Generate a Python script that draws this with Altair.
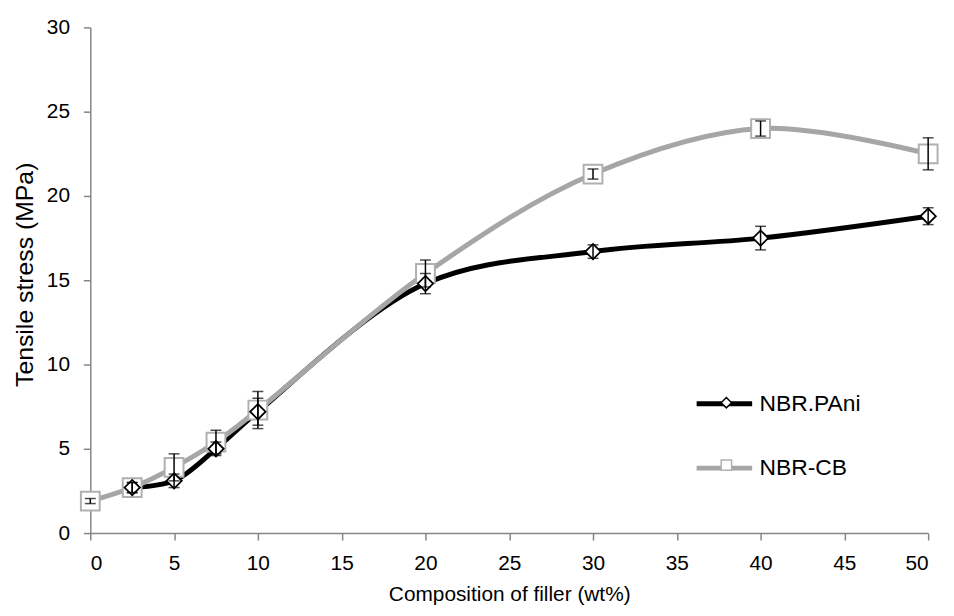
import altair as alt
import pandas as pd

# ---- data ----
series_names = ["NBR.PAni", "NBR-CB"]
marker_names = ["NBR.PAni ", "NBR-CB "]
x_pani = [2.5, 5, 7.5, 10, 20, 30, 40, 50]
y_pani = [2.7, 3.1, 5.0, 7.2, 14.8, 16.7, 17.5, 18.8]
e_pani = [0.3, 0.4, 0.4, 0.8, 0.6, 0.4, 0.7, 0.5]

x_cb = [0, 2.5, 5, 7.5, 10, 20, 30, 40, 50]
y_cb = [1.9, 2.7, 3.9, 5.4, 7.3, 15.4, 21.3, 24.0, 22.5]
e_cb = [0.15, 0.3, 0.8, 0.7, 1.1, 0.8, 0.3, 0.45, 0.95]

x_ticks = [0, 5, 10, 15, 20, 25, 30, 35, 40, 45, 50]
y_ticks = [0, 5, 10, 15, 20, 25, 30]

rows = []
for name, mk, xs, ys, es in [(series_names[0], marker_names[0], x_pani, y_pani, e_pani),
                             (series_names[1], marker_names[1], x_cb, y_cb, e_cb)]:
    for x, y, e in zip(xs, ys, es):
        rows.append({"series": name, "mk": mk, "x": x, "y": y,
                     "lo": y - e, "hi": y + e})
df = pd.DataFrame(rows)

FONT = "Liberation Sans"
colors = ["#000000", "#a6a6a6"]

xenc = alt.X("x:Q", scale=alt.Scale(domain=[0, 50], nice=False),
             axis=alt.Axis(values=x_ticks, title="Composition of filler (wt%)",
                           labelPadding=13, titlePadding=10))
yenc = alt.Y("y:Q", scale=alt.Scale(domain=[0, 30], nice=False),
             axis=alt.Axis(values=y_ticks, title="Tensile stress (MPa)",
                           labelPadding=14, titlePadding=9, titleFontSize=25,
                           titleY=249))

base = alt.Chart(df)

color_enc = alt.Color(
    "series:N", title=None,
    scale=alt.Scale(domain=series_names, range=colors),
    legend=alt.Legend(orient="none", legendX=609, legendY=349,
                      symbolType="stroke", symbolStrokeWidth=5, symbolSize=3136,
                      labelFontSize=23, labelFont=FONT, labelColor="black",
                      labelOffset=5, rowPadding=22, padding=0))

line_pani = base.transform_filter(alt.datum.series == series_names[0]).mark_line(
    strokeWidth=5, interpolate="catmull-rom").encode(x=xenc, y=yenc, color=color_enc)
line_cb = base.transform_filter(alt.datum.series == series_names[1]).mark_line(
    strokeWidth=5, interpolate="catmull-rom").encode(x=xenc, y=yenc, color=color_enc)

shape_enc = alt.Shape(
    "mk:N", title=None,
    scale=alt.Scale(domain=marker_names, range=["diamond", "square"]),
    legend=alt.Legend(orient="none", legendX=631, legendY=368,
                      symbolSize=110, symbolStrokeWidth=1.5, symbolFillColor="white",
                      labelFontSize=21, labelExpr="''", labelOffset=5,
                      rowPadding=41, padding=0))
stroke_enc = alt.Stroke("mk:N", title=None,
                        scale=alt.Scale(domain=marker_names, range=["#000000", "#b0b0b0"]))

pts_cb = base.transform_filter(alt.datum.series == series_names[1]).mark_point(
    size=360, fill="white", fillOpacity=1, strokeWidth=2, opacity=1
).encode(x="x:Q", y="y:Q", shape=shape_enc, stroke=stroke_enc)
pts_pani = base.transform_filter(alt.datum.series == series_names[0]).mark_point(
    size=240, fill="white", fillOpacity=1, strokeWidth=1.8, opacity=1
).encode(x="x:Q", y="y:Q", shape=shape_enc, stroke=stroke_enc)

err_rule = base.mark_rule(color="black", strokeWidth=1.5).encode(
    x="x:Q", y="lo:Q", y2="hi:Q")
cap_lo = base.mark_tick(color="black", orient="horizontal", size=11, thickness=1.5).encode(
    x="x:Q", y="lo:Q")
cap_hi = base.mark_tick(color="black", orient="horizontal", size=11, thickness=1.5).encode(
    x="x:Q", y="hi:Q")

chart = alt.layer(line_pani, line_cb, pts_cb, pts_pani, err_rule, cap_lo, cap_hi).properties(
    width=845, height=510,
    autosize=alt.AutoSizeParams(type="none"),
    padding={"left": 83, "top": 17, "right": 18, "bottom": 73},
).configure_axis(
    grid=False, domainColor="#868686", domainWidth=1.5,
    tickColor="#868686", tickWidth=1.5, tickSize=7,
    labelFont=FONT, labelFontSize=21, labelColor="black",
    titleFont=FONT, titleFontSize=21, titleFontWeight="normal", titleColor="black",
).configure_view(stroke=None)

chart.save("out.html", embed_options={"renderer": "svg", "actions": False})
